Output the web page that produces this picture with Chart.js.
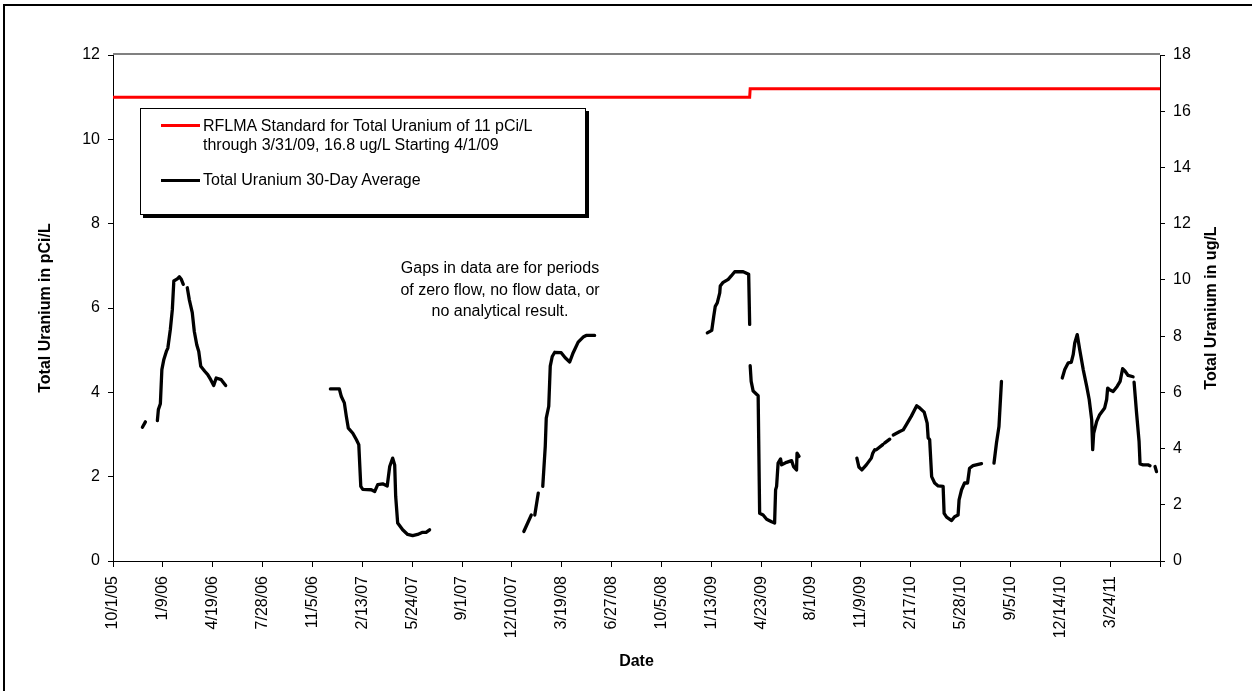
<!DOCTYPE html>
<html>
<head>
<meta charset="utf-8">
<script src="https://cdn.jsdelivr.net/npm/chart.js@4.4.0/dist/chart.umd.min.js"></script>
<style>
html,body{margin:0;padding:0;background:#fff;overflow:hidden;width:1252px;height:691px;}
#wrap{position:relative;width:1252px;height:691px;overflow:hidden;}
#frame{position:absolute;left:3px;top:4px;width:1400px;height:900px;border:2px solid #000;box-sizing:border-box;}
canvas{position:absolute;left:0;top:0;}
.txt{font-family:"Liberation Sans",Arial,sans-serif;font-size:16px;color:#000;}
#legend{position:absolute;left:140px;top:108px;width:446px;height:107px;border:1px solid #000;box-shadow:3px 3px 0 #000;background:#fff;box-sizing:border-box;}
.sw{position:absolute;left:20px;width:39px;height:3px;}
.lt{position:absolute;left:62px;line-height:19px;white-space:nowrap;}
#note{position:absolute;left:340px;top:257px;width:320px;text-align:center;line-height:21.5px;}
</style>
</head>
<body>
<div id="wrap">
  <canvas id="c" width="1252" height="691"></canvas>
  <div id="frame"></div>
  <div id="legend" class="txt">
    <div class="sw" id="sw0" style="top:15px;"></div>
    <div class="lt" id="lt0" style="top:7px;"></div>
    <div class="sw" id="sw1" style="top:70px;"></div>
    <div class="lt" id="lt1" style="top:61px;"></div>
  </div>
  <div id="note" class="txt"></div>
</div>
<script>
// ---------- data ----------
const xTickLabels = ['10/1/05','1/9/06','4/19/06','7/28/06','11/5/06','2/13/07','5/24/07','9/1/07',
  '12/10/07','3/19/08','6/27/08','10/5/08','1/13/09','4/23/09','8/1/09','11/9/09','2/17/10',
  '5/28/10','9/5/10','12/14/10','3/24/11'];
const xStartDate = '2005-10-01';
const xEndDate = '2011-07-02';
const xTickStepDays = 100;

const leftAxisTitle = 'Total Uranium in pCi/L';
const rightAxisTitle = 'Total Uranium in ug/L';
const xAxisTitle = 'Date';
const seriesNames = ['RFLMA Standard for Total Uranium of 11 pCi/L\nthrough 3/31/09, 16.8 ug/L Starting 4/1/09',
  'Total Uranium 30-Day Average'];
const noteLines = ['Gaps in data are for periods', 'of zero flow, no flow data, or', 'no analytical result.'];

// standard (pCi/L on left axis; 16.8 ug/L = 11.2 on left scale)
const standardDates = ['2005-10-01','2009-03-31','2009-04-01','2011-07-02'];
const standardValues = [11, 11, 11.2, 11.2];

// 30-day average, null = gap in data
const uraniumDates = [
 '2005-11-29','2005-12-05','2005-12-05',
 '2005-12-29','2005-12-31','2006-01-04','2006-01-07','2006-01-11','2006-01-16','2006-01-19','2006-01-24',
 '2006-01-28','2006-01-31','2006-02-07','2006-02-11','2006-02-15','2006-02-19','2006-02-19',
 '2006-02-27','2006-03-03','2006-03-09','2006-03-13','2006-03-18','2006-03-22','2006-03-26','2006-04-03',
 '2006-04-09','2006-04-15','2006-04-21','2006-04-26','2006-05-06','2006-05-15','2006-05-15',
 '2006-12-11','2006-12-29','2007-01-02','2007-01-08','2007-01-12','2007-01-16','2007-01-25','2007-02-01',
 '2007-02-06','2007-02-10','2007-02-14','2007-03-03','2007-03-10','2007-03-16','2007-03-26','2007-04-04',
 '2007-04-09','2007-04-15','2007-04-19','2007-04-21','2007-04-25','2007-05-05','2007-05-15','2007-05-25',
 '2007-06-04','2007-06-14','2007-06-21','2007-06-28','2007-06-28',
 '2008-01-03','2008-01-18','2008-01-18',
 '2008-01-25','2008-02-01','2008-02-01',
 '2008-02-10','2008-02-15','2008-02-17','2008-02-22','2008-02-25','2008-02-29','2008-03-05','2008-03-18',
 '2008-03-26','2008-04-04','2008-04-11','2008-04-21','2008-05-02','2008-05-07','2008-05-24','2008-05-24',
 '2009-01-05','2009-01-14','2009-01-18','2009-01-21','2009-01-25','2009-01-30','2009-01-31','2009-02-05',
 '2009-02-16','2009-02-22','2009-03-01','2009-03-18','2009-03-29','2009-03-31','2009-03-31',
 '2009-04-01','2009-04-03','2009-04-07','2009-04-17','2009-04-20','2009-04-27','2009-05-04','2009-05-14',
 '2009-05-20','2009-05-22','2009-05-24','2009-05-27','2009-06-01','2009-06-03','2009-06-13','2009-06-23',
 '2009-06-27','2009-07-03','2009-07-04','2009-07-08','2009-07-08',
 '2009-11-01','2009-11-05','2009-11-11','2009-11-20','2009-11-30','2009-12-03','2009-12-07','2009-12-07',
 '2009-12-10','2009-12-23','2009-12-23',
 '2009-12-27','2010-01-06','2010-01-06',
 '2010-01-13','2010-01-26','2010-02-02','2010-02-08','2010-02-18','2010-03-01','2010-03-07','2010-03-16',
 '2010-03-22','2010-03-24','2010-03-27','2010-03-31','2010-04-06','2010-04-13','2010-04-23','2010-04-25',
 '2010-04-30','2010-05-10','2010-05-16','2010-05-23','2010-05-25','2010-05-30','2010-06-05','2010-06-11',
 '2010-06-15','2010-06-22','2010-07-09','2010-07-09',
 '2010-08-03','2010-08-08','2010-08-13','2010-08-18','2010-08-18',
 '2010-12-18','2010-12-23','2010-12-30','2011-01-05','2011-01-09','2011-01-12','2011-01-17','2011-01-22',
 '2011-01-29','2011-02-05','2011-02-10','2011-02-15','2011-02-17','2011-02-19','2011-02-25','2011-03-03',
 '2011-03-13','2011-03-17','2011-03-19','2011-03-23','2011-03-30','2011-04-07','2011-04-13','2011-04-18',
 '2011-04-23','2011-04-29','2011-05-09','2011-05-09',
 '2011-05-11','2011-05-16','2011-05-21','2011-05-23','2011-05-29','2011-06-08','2011-06-12','2011-06-12',
 '2011-06-22','2011-06-25'
];
const uraniumValues = [
 3.17,3.30,null,
 3.33,3.59,3.73,4.54,4.78,4.97,5.05,5.49,
 5.96,6.64,6.69,6.74,6.68,6.56,null,
 6.48,6.20,5.89,5.45,5.13,4.97,4.62,4.50,
 4.42,4.30,4.16,4.34,4.30,4.16,null,
 4.08,4.08,3.90,3.75,3.43,3.15,3.03,2.88,
 2.76,1.77,1.70,1.69,1.65,1.81,1.83,1.78,
 2.24,2.44,2.28,1.53,0.90,0.74,0.63,0.60,
 0.63,0.68,0.68,0.74,null,
 0.70,1.09,null,
 1.09,1.61,null,
 1.77,2.72,3.39,3.67,4.62,4.85,4.95,4.94,
 4.82,4.72,4.94,5.19,5.32,5.35,5.35,null,
 5.41,5.47,5.81,6.04,6.12,6.36,6.52,6.60,
 6.68,6.76,6.86,6.86,6.80,5.61,null,
 4.63,4.26,4.03,3.92,1.13,1.09,0.99,0.93,
 0.90,1.69,1.77,2.32,2.42,2.28,2.34,2.38,
 2.24,2.16,2.56,2.48,null,
 2.44,2.23,2.16,2.28,2.44,2.56,2.64,null,
 2.64,2.76,null,
 2.80,2.89,null,
 2.99,3.07,3.11,3.23,3.43,3.68,3.63,3.53,
 3.27,2.92,2.88,2.00,1.85,1.78,1.77,1.13,
 1.04,0.96,1.05,1.09,1.45,1.69,1.85,1.85,
 2.20,2.26,2.31,null,
 2.32,2.80,3.19,4.26,null,
 4.34,4.54,4.70,4.71,4.90,5.17,5.37,5.01,
 4.54,4.14,3.83,3.35,2.64,3.03,3.31,3.47,
 3.63,3.83,4.10,4.06,4.02,4.14,4.26,4.56,
 4.50,4.40,4.37,null,
 4.24,3.51,2.84,2.30,2.28,2.28,2.26,null,
 2.24,2.12
];
const seriesColors = ['#ff0000', '#000000'];

// ---------- helpers ----------
const FONT = '"Liberation Sans", Arial, sans-serif';
const base = Date.UTC(+xStartDate.slice(0,4), +xStartDate.slice(5,7)-1, +xStartDate.slice(8,10));
const dayOf = s => (Date.UTC(+s.slice(0,4), +s.slice(5,7)-1, +s.slice(8,10)) - base) / 86400000;
const toPts = (dates, vals) => dates.map((d, i) => ({x: dayOf(d), y: vals[i]}));

// legend + note as HTML text
document.getElementById('sw0').style.background = seriesColors[0];
document.getElementById('sw1').style.background = seriesColors[1];
document.getElementById('lt0').innerHTML = seriesNames[0].split('\n').join('<br>');
document.getElementById('lt1').textContent = seriesNames[1];
document.getElementById('note').innerHTML = noteLines.join('<br>');

const extras = {
  id: 'extras',
  afterDraw(chart) {
    const {ctx, chartArea: a} = chart;
    ctx.save();
    ctx.strokeStyle = '#808080';
    ctx.lineWidth = 2;
    ctx.beginPath();
    ctx.moveTo(a.left, a.top - 1);
    ctx.lineTo(a.right, a.top - 1);
    ctx.stroke();
    ctx.fillStyle = '#000';
    ctx.font = 'bold 16px ' + FONT;
    ctx.translate(1212, (a.top + a.bottom) / 2);
    ctx.rotate(-Math.PI / 2);
    ctx.textAlign = 'center';
    ctx.textBaseline = 'middle';
    ctx.fillText(rightAxisTitle, 0, 0);
    ctx.restore();
  }
};

const tickFont = {family: FONT, size: 16};
new Chart(document.getElementById('c'), {
  type: 'line',
  data: {
    datasets: [
      {label: seriesNames[0], data: toPts(standardDates, standardValues), borderColor: seriesColors[0],
       borderWidth: 3, pointRadius: 0, tension: 0, yAxisID: 'y', xAxisID: 'x'},
      {label: seriesNames[1], data: toPts(uraniumDates, uraniumValues), borderColor: seriesColors[1],
       borderWidth: 3.3, pointRadius: 0, tension: 0, spanGaps: false, borderJoinStyle: 'round',
       borderCapStyle: 'round', yAxisID: 'y', xAxisID: 'x'}
    ]
  },
  options: {
    responsive: false,
    animation: false,
    devicePixelRatio: 1,
    layout: {padding: {top: 55, left: 0, right: 0, bottom: 0}},
    plugins: {legend: {display: false}, tooltip: {enabled: false}},
    scales: {
      x: {
        type: 'linear', position: 'bottom',
        min: 0, max: dayOf(xEndDate),
        afterFit: s => { s.height = 130; },
        afterBuildTicks: s => { s.ticks = []; for (let v = 0; v <= dayOf(xEndDate); v += xTickStepDays) s.ticks.push({value: v}); },
        ticks: {
          autoSkip: false, minRotation: 90, maxRotation: 90, padding: 9, color: '#000', font: tickFont,
          callback: (v, i) => xTickLabels[i] ?? ''
        },
        grid: {drawOnChartArea: false, drawTicks: true, tickLength: 6, color: '#000'},
        border: {color: '#000', width: 1},
        title: {display: true, text: xAxisTitle, color: '#000', font: {family: FONT, size: 16, weight: 'bold'},
                padding: {top: 0, bottom: 20}}
      },
      y: {
        type: 'linear', position: 'left', min: 0, max: 12,
        afterFit: s => { s.width = 113; },
        ticks: {stepSize: 2, padding: 8, color: '#000', font: tickFont},
        grid: {drawOnChartArea: false, drawTicks: true, tickLength: 5, color: '#000'},
        border: {color: '#000', width: 1},
        title: {display: true, text: leftAxisTitle, color: '#000', font: {family: FONT, size: 16, weight: 'bold'},
                padding: {top: 36, bottom: 0}}
      },
      y2: {
        type: 'linear', position: 'right', min: 0, max: 18,
        afterFit: s => { s.width = 92; },
        ticks: {stepSize: 2, padding: 8, color: '#000', font: tickFont},
        grid: {drawOnChartArea: false, drawTicks: true, tickLength: 5, color: '#000'},
        border: {color: '#000', width: 1}
      }
    }
  },
  plugins: [extras]
});
</script>
</body>
</html>
